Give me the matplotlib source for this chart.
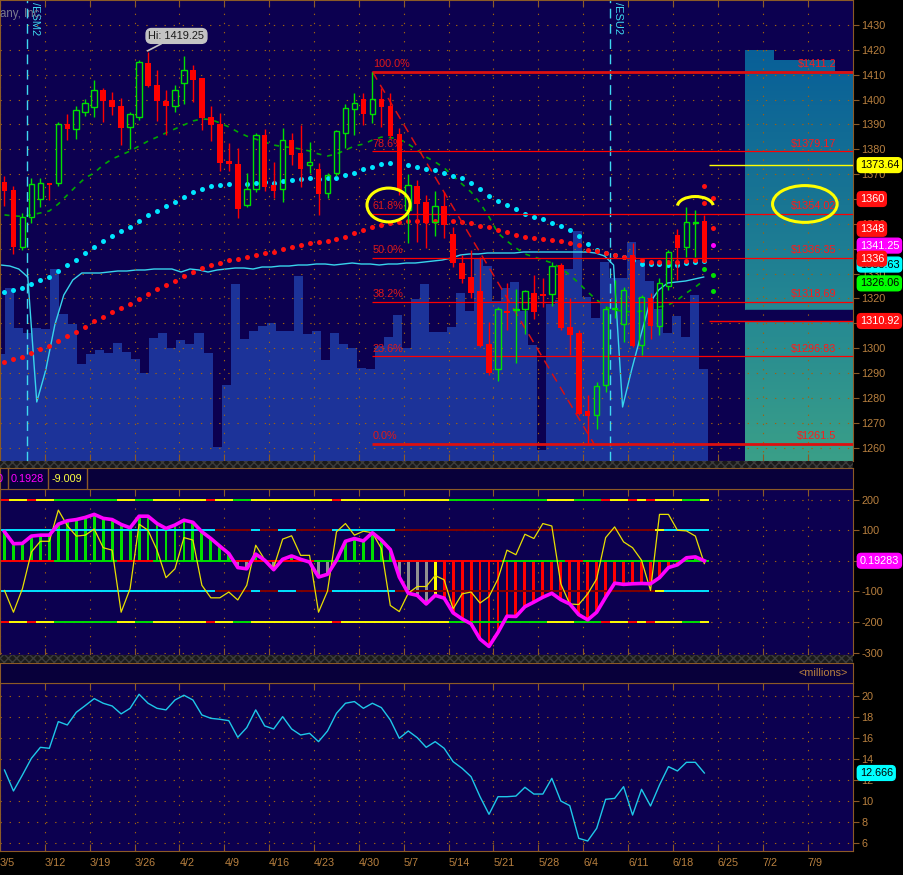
import numpy as np
import matplotlib.pyplot as plt
from matplotlib.colors import LinearSegmentedColormap
from matplotlib.patches import Rectangle, Ellipse, Arc, Polygon
from matplotlib.transforms import blended_transform_factory

plt.rcParams['font.family'] = ['Liberation Sans', 'DejaVu Sans']

# daily /ES bars, 3/5 .. 6/21
week_labels = ['3/5', '3/12', '3/19', '3/26', '4/2', '4/9', '4/16', '4/23', '4/30', '5/7',
               '5/14', '5/21', '5/28', '6/4', '6/11', '6/18', '6/25', '7/2', '7/9']

opens = [1367.0, 1363.6, 1340.8, 1352.6, 1359.9, 1366.6, 1366.3, 1390.2, 1388.0, 1395.1,
         1396.9, 1403.9, 1399.8, 1397.4, 1388.8, 1393.1, 1414.7, 1405.9, 1399.4, 1397.5,
         1406.8, 1411.9, 1408.7, 1393.1, 1390.2, 1375.1, 1374.1, 1357.4, 1363.9, 1385.6,
         1365.6, 1363.9, 1383.7, 1378.4, 1373.6, 1372.1, 1362.6, 1370.3, 1386.7, 1396.3,
         1400.1, 1394.1, 1400.1, 1397.4, 1386.1, 1355.6, 1365.2, 1358.8, 1350.9, 1357.3,
         1345.9, 1334.4, 1328.6, 1323.0, 1301.7, 1291.5, 1314.8, 1315.4, 1315.6, 1322.0,
         1321.8, 1321.6, 1333.4, 1308.6, 1306.0, 1274.7, 1273.1, 1285.2, 1315.8, 1309.6,
         1337.5, 1301.1, 1320.3, 1309.0, 1325.0, 1345.5, 1340.8, 1350.2, 1351.1]
highs = [1369.3, 1365.2, 1354.2, 1368.6, 1368.6, 1366.6, 1391.1, 1394.1, 1397.4, 1400.1,
         1407.9, 1404.5, 1403.2, 1400.8, 1395.1, 1416.0, 1419.25, 1411.9, 1403.9, 1405.9,
         1417.5, 1413.9, 1408.7, 1397.4, 1394.5, 1382.4, 1380.4, 1370.3, 1386.4, 1388.0,
         1374.8, 1388.4, 1386.4, 1389.8, 1382.8, 1374.3, 1370.6, 1387.8, 1398.1, 1402.8,
         1402.5, 1411.2, 1404.5, 1402.5, 1388.4, 1370.1, 1367.6, 1361.6, 1363.2, 1362.9,
         1348.9, 1337.5, 1339.5, 1336.8, 1310.6, 1316.7, 1326.1, 1323.7, 1323.4, 1329.4,
         1328.1, 1334.8, 1334.1, 1320.0, 1307.3, 1281.1, 1286.5, 1316.7, 1327.4, 1324.7,
         1342.4, 1321.4, 1322.0, 1328.1, 1339.5, 1347.8, 1356.9, 1355.6, 1353.5]
lows = [1357.2, 1337.9, 1339.5, 1350.2, 1356.9, 1359.6, 1365.2, 1383.7, 1384.1, 1393.5,
        1393.1, 1391.1, 1393.8, 1381.7, 1380.0, 1391.8, 1405.0, 1391.5, 1385.8, 1395.1,
        1398.2, 1399.2, 1387.8, 1383.5, 1371.4, 1371.4, 1352.2, 1356.6, 1362.9, 1363.4,
        1360.3, 1358.9, 1373.7, 1364.9, 1370.3, 1353.6, 1360.3, 1369.3, 1380.4, 1385.8,
        1389.8, 1390.7, 1389.1, 1384.4, 1361.6, 1342.2, 1342.8, 1340.1, 1345.1, 1344.2,
        1332.8, 1326.1, 1320.0, 1300.3, 1289.2, 1286.9, 1307.3, 1293.9, 1305.7, 1311.6,
        1316.7, 1317.1, 1307.3, 1297.2, 1273.1, 1261.5, 1267.3, 1282.5, 1312.0, 1302.6,
        1300.3, 1297.2, 1303.5, 1305.3, 1323.4, 1327.4, 1336.8, 1336.8, 1334.8]
closes = [1363.4, 1340.8, 1352.9, 1366.0, 1366.3, 1365.8, 1390.2, 1388.2, 1395.7, 1398.5,
          1403.7, 1399.4, 1397.2, 1388.7, 1394.1, 1415.0, 1405.6, 1399.4, 1397.5, 1403.7,
          1411.9, 1407.9, 1392.5, 1389.8, 1374.6, 1374.1, 1356.1, 1363.9, 1385.6, 1364.7,
          1363.4, 1383.6, 1377.7, 1372.1, 1374.8, 1362.0, 1369.5, 1387.4, 1396.5, 1398.5,
          1394.1, 1400.1, 1397.1, 1385.3, 1363.6, 1365.5, 1358.0, 1350.2, 1357.2, 1349.5,
          1334.1, 1327.8, 1322.0, 1300.9, 1289.9, 1315.6, 1314.3, 1315.9, 1323.0, 1314.4,
          1321.1, 1333.2, 1308.2, 1305.3, 1273.4, 1272.7, 1284.9, 1315.6, 1316.3, 1323.4,
          1300.9, 1320.4, 1309.0, 1326.1, 1338.5, 1340.4, 1350.6, 1350.6, 1336.0]

volume = [1.07, 1.73, 1.33, 1.28, 1.33, 1.32, 1.92, 1.47, 1.37, 0.97,
          1.07, 1.11, 1.08, 1.18, 1.09, 1.02, 0.88, 1.23, 1.28, 1.13,
          1.21, 1.17, 1.28, 1.08, 0.14, 0.76, 1.77, 1.22, 1.30, 1.35,
          1.38, 1.30, 1.30, 1.85, 1.27, 1.30, 1.01, 1.28, 1.17, 1.13,
          0.93, 0.92, 1.15, 1.24, 1.46, 1.13, 1.62, 1.77, 1.29, 1.29,
          1.34, 1.68, 1.50, 2.02, 1.95, 1.60, 1.73, 1.79, 1.50, 1.16,
          0.11, 1.57, 1.61, 1.92, 2.30, 1.64, 1.43, 1.99, 1.83, 1.83,
          2.19, 2.01, 1.80, 1.52, 1.28, 1.45, 1.24, 1.66, 0.92]
open_interest = [1.96, 1.95, 1.92, 1.84, 0.59, 0.91, 1.36, 1.66, 1.81, 1.88,
                 1.88, 1.88, 1.89, 1.90, 1.90, 1.91, 1.91, 1.92, 1.92, 1.92,
                 1.89, 1.92, 1.91, 1.89, 1.91, 1.92, 1.93, 1.93, 1.92, 1.94,
                 1.94, 1.95, 1.95, 1.96, 1.96, 1.97, 1.97, 1.96, 1.97, 1.98,
                 1.97, 1.97, 1.96, 1.97, 1.97, 1.98, 1.98, 1.99, 2.00, 2.01,
                 2.03, 2.06, 2.07, 2.07, 2.08, 2.08, 2.08, 2.08, 2.09, 2.09,
                 2.09, 2.09, 2.09, 2.09, 2.09, 2.09, 2.08, 2.05, 1.96, 0.54,
                 0.91, 1.25, 1.58, 1.71, 1.78, 1.79, 1.80, 1.82, 1.84]

ma_fast = [1353.6, 1353.2, 1353.0, 1353.6, 1354.4, 1355.2, 1358.0, 1361.6, 1365.2, 1368.5,
           1370.5, 1373.7, 1376.1, 1377.7, 1379.3, 1381.3, 1383.3, 1384.9, 1386.6, 1388.2,
           1389.8, 1391.4, 1392.2, 1392.0, 1390.6, 1389.0, 1387.0, 1385.3, 1384.1, 1382.9,
           1381.7, 1381.1, 1380.7, 1380.1, 1379.3, 1378.1, 1377.3, 1378.1, 1379.7, 1381.3,
           1382.1, 1383.7, 1384.9, 1384.7, 1384.1, 1382.1, 1379.7, 1376.9, 1374.9, 1372.5,
           1369.3, 1366.0, 1362.8, 1358.4, 1352.8, 1346.3, 1343.1, 1340.3, 1337.9, 1336.7,
           1335.5, 1334.3, 1332.2, 1329.4, 1326.2, 1322.6, 1319.4, 1316.6, 1315.3, 1314.9,
           1314.5, 1314.9, 1315.7, 1316.6, 1317.4, 1319.4, 1322.2, 1324.6, 1327.4]
ma_mid = [1322.6, 1323.4, 1324.3, 1325.8, 1327.4, 1328.6, 1331.0, 1333.5, 1335.5, 1338.4,
          1340.7, 1343.2, 1345.2, 1347.1, 1348.7, 1351.2, 1353.6, 1355.2, 1357.2, 1358.9,
          1360.9, 1363.0, 1364.1, 1365.4, 1365.8, 1366.2, 1366.2, 1366.2, 1366.6, 1367.0,
          1366.6, 1367.4, 1367.8, 1368.2, 1368.6, 1368.2, 1368.6, 1368.6, 1369.8, 1370.6,
          1372.0, 1373.0, 1374.0, 1374.6, 1374.1, 1373.6, 1373.0, 1372.2, 1371.7, 1370.6,
          1369.3, 1368.3, 1366.6, 1364.1, 1361.2, 1359.3, 1357.6, 1355.9, 1354.0, 1352.9,
          1351.8, 1350.5, 1349.3, 1347.5, 1345.2, 1342.0, 1339.5, 1338.4, 1337.5, 1336.8,
          1335.5, 1333.9, 1333.9, 1333.9, 1333.6, 1333.6, 1334.1, 1334.8, 1335.1]
ma_slow = [1294.6, 1295.6, 1296.6, 1298.2, 1299.7, 1301.0, 1302.9, 1305.0, 1306.6, 1308.6,
           1310.9, 1312.7, 1314.7, 1316.3, 1317.9, 1319.9, 1321.9, 1323.8, 1325.5, 1327.1,
           1329.2, 1330.8, 1332.4, 1333.6, 1334.4, 1335.6, 1336.0, 1336.8, 1337.6, 1338.4,
           1338.8, 1339.9, 1340.8, 1341.6, 1342.4, 1342.8, 1343.2, 1344.0, 1344.8, 1346.5,
           1347.7, 1348.9, 1349.7, 1350.5, 1350.9, 1351.3, 1351.3, 1351.3, 1351.3, 1351.3,
           1351.3, 1350.9, 1350.5, 1349.3, 1348.9, 1347.7, 1346.8, 1345.6, 1344.8, 1344.4,
           1344.0, 1343.6, 1343.2, 1342.4, 1341.5, 1339.5, 1339.1, 1338.3, 1337.6, 1336.8,
           1336.1, 1335.5, 1334.8, 1334.8, 1334.8, 1334.8, 1335.1, 1335.5, 1335.5]

# pivot projections for the next bars
piv_red_day = [78, 78, 79, 79]
piv_red = [1365.4, 1358.2, 1360.5, 1348.3]
piv_mag_day = [78, 79]
piv_mag = [1348.6, 1341.6]
piv_grn_day = [78, 78, 79, 79]
piv_grn = [1341.5, 1331.8, 1329.4, 1323.1]

# fibonacci retracement 4/30 high -> 6/4 low
fib_anchor_days = [41, 65.7]
fib_levels = [1411.2, 1379.17, 1354.02, 1336.35, 1318.69, 1296.83, 1261.5]
fib_pct = ['100.0%', '78.6%', '61.8%', '50.0%', '38.2%', '23.6%', '0.0%']
fib_price = ['$1411.2', '$1379.17', '$1354.02', '$1336.35', '$1318.69', '$1296.83', '$1261.5']

# probability box on the right
box_edges = [82.5, 85.8, 92.6, 94.6]
box_tops = [1420, 1416, 1411.5]
box_gap = [1311.3, 1315.3]
proj_yellow = 1373.64
proj_red = 1310.92

# right axis flags: text, value, background, text colour
top_flags = [('1373.64', 1373.64, '#ffff00', 'black'),
             ('1360', 1360.0, '#ff1010', 'white'),
             ('1348', 1348.0, '#ff1010', 'white'),
             ('1333.63', 1333.63, '#00ffff', 'black'),
             ('1341.25', 1341.25, '#ff00ff', 'white'),
             ('1336', 1336.0, '#ff1010', 'white'),
             ('1326.06', 1326.06, '#00ff00', 'black'),
             ('1310.92', 1310.92, '#ff1010', 'white')]

# CCI style oscillator
cci_avg = [95, 56, 57, 81, 84, 84, 120, 131, 135, 142,
           152, 139, 135, 119, 108, 146, 146, 122, 106, 117,
           133, 126, 95, 73, 48, 24, -22, -26, 22, 2,
           -29, 5, 16, 5, -4, -53, -44, 2, 64, 73,
           65, 92, 68, 37, -53, -106, -113, -141, -113, -122,
           -170, -190, -206, -256, -280, -234, -181, -182, -150, -135,
           -119, -106, -127, -141, -176, -193, -168, -119, -73, -77,
           -75, -74, -75, -55, -22, -13, 10, 13, 0.19283]
cci_raw = [-97, -168, -91, 29, 64, 64, 166, 115, 81, 84,
           104, 43, 35, -168, -91, 120, 100, 35, -55, -26,
           76, 68, -80, -121, -121, -102, -128, -80, 51, 4,
           -22, 71, 82, 18, 18, -168, -99, 95, 122, 84,
           97, 92, 40, -146, -166, -106, -84, -84, -48, -62,
           -157, -108, -102, -138, -117, -59, 35, 20, 87, 73,
           122, 114, -75, -141, -143, -108, -59, 76, 111, 62,
           43, 2, -97, 152, 152, 100, 98, 81, -9.009]
band200_state = ("RYYRYYGGGGGGGYYGGYYYYYYRYYGGYYYYYYYYYRYYYYYYYYYYYY"
                 "GGGGGGGGGGGYYYGGGRYYRYRYYYGGY")
band100_state = ("CCCCCCCCCCCCCCCCCCCCCCCCDDDDCDDCCDDDDCCCCCCC"
                 "DDDDDDDDDDDDDDDDDDDDDDDDDDDDDYCCCCC")
zero_state = ("RRRRRRGGGGGGGRRRRGGGGGGGGGRRRRRRRRRGGGGGGGGGRRRRRR"
              "RRRRRRGGGGGGGRRGGGGGGGGGGGGGG")
hist_state = ("GGGGGGGGGGGGGGGGGGGGGGGGGGXXGGXGGGXXXGGGGGGGXXXXY"
              "RRRRRRRRRRRRRRRRRRRRRRRRRRRGGG")

# lower study, millions
vol_avg = [12.95, 10.96, 12.48, 14.06, 15.10, 15.01, 17.54, 17.22, 18.42, 19.06,
           19.72, 19.28, 19.02, 18.27, 18.80, 20.13, 19.28, 18.80, 18.65, 19.59,
           20.04, 19.59, 18.17, 17.85, 17.76, 17.63, 16.05, 16.97, 18.65, 17.13,
           16.84, 18.01, 16.84, 16.27, 16.43, 15.64, 16.65, 18.33, 19.28, 19.44,
           18.80, 19.28, 18.87, 17.70, 15.96, 16.65, 16.02, 15.10, 15.64, 15.01,
           13.74, 13.11, 12.32, 10.42, 8.75, 10.42, 10.42, 10.48, 11.31, 10.67,
           10.67, 12.16, 10.01, 9.57, 6.47, 6.22, 7.42, 10.17, 10.26, 11.37,
           8.68, 11.12, 9.54, 11.53, 13.27, 12.86, 13.68, 13.68, 12.666]

# ---------------- style ----------------
BG = '#0c0050'
HDR = '#08003a'
AXC = '#8c5a26'
TXT = '#b9803f'
GRIDC = '#a0620e'
RED = '#ff0000'
GREEN = '#00e000'
state_colors = {'R': '#ff0000', 'Y': '#ffff00', 'G': '#00e000', 'C': '#00e5ff',
                'D': '#800000', 'X': '#909090'}
grid_ls = (0, (1.2, 7))

W, H = 904, 875


def rect(x0, y0, x1, y1):
    return [x0 / W, 1 - y1 / H, (x1 - x0) / W, (y1 - y0) / H]


x = np.arange(len(opens))
o, h, l, c = map(np.array, (opens, highs, lows, closes))
week_ticks = np.arange(len(week_labels)) * 5 - 0.5
xlim = (-0.08, 94.6)

fig = plt.figure(figsize=(9.04, 8.75), dpi=100, facecolor='black')

# ---------------- price panel ----------------
axv = fig.add_axes(rect(0, 0, 853.3, 461), facecolor=BG)
axv.bar(x, volume, width=1.0, color='#1c3399', linewidth=0)
axv.plot(x, open_interest, color='#38d4ec', lw=1.0)
axv.set_xlim(xlim)
axv.set_ylim(0, 4.61)
axv.set_xticks([])
axv.set_yticks([])
for s in axv.spines.values():
    s.set_visible(False)

ax1 = fig.add_axes(rect(0, 0, 853.3, 461), facecolor='none')
ax1.set_axisbelow(True)

# gradient box
grad = np.linspace(0, 1, 256).reshape(-1, 1)
cmap = LinearSegmentedColormap.from_list('box', ['#085f98', '#177394', '#268a92', '#3a9f88'])
im = ax1.imshow(grad, extent=[box_edges[0], box_edges[-1], 1254.6, box_tops[0]],
                aspect='auto', cmap=cmap, origin='upper', zorder=0.2)
verts = [(box_edges[0], 1254.6)]
for i, top in enumerate(box_tops):
    verts += [(box_edges[i], top), (box_edges[i + 1], top)]
verts += [(box_edges[-1], 1254.6)]
im.set_clip_path(Polygon(verts, closed=True, transform=ax1.transData))
ax1.add_patch(Rectangle((box_edges[0], box_gap[0]), box_edges[-1] - box_edges[0],
                        box_gap[1] - box_gap[0], color=BG, zorder=0.3))

# moving averages
ax1.plot(x, ma_fast, color='#00a800', ls=(0, (3, 3.5)), lw=1.2, zorder=2)
ax1.plot(x, ma_mid, ls='none', marker='o', ms=3.6, color='#00e5ff', mec='none', zorder=2.2)
ax1.plot(x, ma_slow, ls='none', marker='o', ms=3.6, color='#ff1010', mec='none', zorder=2.2)
ax1.plot(piv_red_day, piv_red, ls='none', marker='o', ms=3.6, color='#ff1010', mec='none', zorder=2.2)
ax1.plot(piv_mag_day, piv_mag, ls='none', marker='o', ms=3.6, color='#ff00ff', mec='none', zorder=2.2)
ax1.plot(piv_grn_day, piv_grn, ls='none', marker='o', ms=3.6, color='#00e000', mec='none', zorder=2.2)

# candles
up = c >= o
blo = np.minimum(o, c)
bhi = np.maximum(o, c)
bh = np.maximum(bhi - blo, 0.45)
dn = ~up
ax1.vlines(x[dn], l[dn], h[dn], color=RED, lw=1.0, zorder=3)
ax1.bar(x[dn], bh[dn], width=0.62, bottom=blo[dn], color=RED, linewidth=0, zorder=3.1)
ax1.vlines(x[up], bhi[up], h[up], color=GREEN, lw=1.0, zorder=3)
ax1.vlines(x[up], l[up], blo[up], color=GREEN, lw=1.0, zorder=3)
ax1.bar(x[up], bh[up], width=0.62, bottom=blo[up], facecolor='none', edgecolor=GREEN,
        linewidth=1.0, zorder=3.1)

# fibonacci
for i, (lev, pct, lab) in enumerate(zip(fib_levels, fib_pct, fib_price)):
    thick = i in (0, len(fib_levels) - 1)
    ax1.hlines(lev, fib_anchor_days[0], xlim[1], color='#dd1010' if thick else RED,
               lw=2.0 if thick else 0.9, zorder=2.5)
    ax1.text(fib_anchor_days[0] + 0.05, lev + 1.0, pct, color='#e01818', fontsize=7.8,
             ha='left', va='bottom', zorder=2.6)
    ax1.text(92.68, lev + 1.0, lab, color='#ff1a1a', fontsize=7.8,
             ha='right', va='bottom', zorder=2.6)
ax1.plot(fib_anchor_days, [fib_levels[0], fib_levels[-1]], color='#d81010',
         ls=(0, (6, 4)), lw=1.1, zorder=2.4)

ax1.hlines(proj_yellow, 78.5, xlim[1], color='#ffff00', lw=1.0, zorder=2.5)
ax1.hlines(proj_red, 78.5, xlim[1], color=RED, lw=1.0, zorder=2.5)

# contract roll markers
for xd, name, tx in [(2.55, '/ESM2', 3.4), (67.5, '/ESU2', 68.4)]:
    ax1.axvline(xd, color='#3fd8f0', ls=(0, (7, 4)), lw=1.0, zorder=2.3)
    ax1.text(tx, 1439.2, name, rotation=270, va='top', ha='center', color='#3fd8f0',
             fontsize=8, zorder=5)

# hand drawn marks
ax1.add_patch(Ellipse((42.8, 1357.6), 4.8, 13.6, fill=False, ec='#ffff00', lw=2.2, zorder=6))
ax1.add_patch(Ellipse((89.2, 1358.0), 7.2, 14.8, fill=False, ec='#ffff00', lw=2.2, zorder=6))
ax1.add_patch(Arc((77.0, 1357.0), 4.0, 8.0, theta1=15, theta2=170, ec='#ffff00', lw=2.2, zorder=6))

ax1.annotate('Hi: 1419.25', xy=(15.95, 1419.6), xytext=(16.05, 1425.6), ha='left', va='center',
             fontsize=7.9, color='#1a1a1a', zorder=7,
             bbox=dict(boxstyle='round,pad=0.22,rounding_size=0.5', fc='#c4c4c4', ec='#c4c4c4'),
             arrowprops=dict(arrowstyle='-', color='#c4c4c4', lw=1.2, shrinkA=0, shrinkB=0))

fig.text(0.0, 1 - 14 / H, 'any, Inc.', color='#7c7c8c', fontsize=8.3, ha='left', va='center')

ax1.set_xlim(xlim)
ax1.set_ylim(1254.6, 1440.06)
ax1.set_yticks(np.arange(1260, 1431, 10))

# right axis flags
tb1 = blended_transform_factory(ax1.transAxes, ax1.transData)
for txt, val, bg, fg in top_flags:
    ax1.text(1.0075, val, txt, transform=tb1, ha='left', va='center', color=fg, fontsize=7.8,
             clip_on=False, zorder=10,
             bbox=dict(boxstyle='round,pad=0.22,rounding_size=0.35', fc=bg, ec=bg))

# ---------------- oscillator panel ----------------
ax2 = fig.add_axes(rect(0, 489, 853.3, 655), facecolor=BG)
ax2.set_axisbelow(True)
for lev, states in [(200, band200_state), (-200, band200_state), (100, band100_state),
                    (-100, band100_state), (0, zero_state)]:
    ax2.hlines(np.full(len(x), lev), x - 0.5, x + 0.5,
               colors=[state_colors[s] for s in states], lw=1.4, zorder=2.5)
ax2.bar(x, cci_avg, width=0.32, color=[state_colors[s] for s in hist_state], linewidth=0, zorder=2)
ax2.plot(x, cci_raw, color='#e8e000', lw=0.9, zorder=3)
ax2.plot(x, cci_avg, color='#ff00ff', lw=2.6, zorder=4, solid_joinstyle='round')
ax2.set_xlim(xlim)
ax2.set_ylim(-308, 235)
ax2.set_yticks([-300, -200, -100, 0, 100, 200])
ax2.set_yticklabels(['-300', '-200', '-100', '', '100', '200'])
tb2 = blended_transform_factory(ax2.transAxes, ax2.transData)
ax2.text(1.0075, cci_avg[-1], '0.19283', transform=tb2, ha='left', va='center', color='white',
         fontsize=7.8, clip_on=False, zorder=10,
         bbox=dict(boxstyle='round,pad=0.22,rounding_size=0.35', fc='#ff00ff', ec='#ff00ff'))

hdr2 = fig.add_axes(rect(0, 468, 853.3, 489), facecolor=HDR)
hdr2.set_xlim(0, 853.3)
hdr2.set_ylim(0, 1)
hdr2.set_xticks([])
hdr2.set_yticks([])
for xs in (8, 48.5, 87):
    hdr2.axvline(xs, color=AXC, lw=1)
hdr2.text(3, 0.5, '0', color='#ff00ff', fontsize=7.8, ha='right', va='center')
hdr2.text(11, 0.5, '0.1928', color='#ff00ff', fontsize=7.8, ha='left', va='center')
hdr2.text(52, 0.5, '-9.009', color='#ffff40', fontsize=7.8, ha='left', va='center')

# ---------------- lower panel ----------------
ax3 = fig.add_axes(rect(0, 683, 853.3, 851), facecolor=BG)
ax3.set_axisbelow(True)
ax3.plot(x, vol_avg, color='#1ec8e8', lw=1.0, zorder=3)
ax3.set_xlim(xlim)
ax3.set_ylim(5.27, 21.2)
ax3.set_yticks(np.arange(6, 21, 2))
tb3 = blended_transform_factory(ax3.transAxes, ax3.transData)
ax3.text(1.0075, vol_avg[-1], '12.666', transform=tb3, ha='left', va='center', color='black',
         fontsize=7.8, clip_on=False, zorder=10,
         bbox=dict(boxstyle='round,pad=0.22,rounding_size=0.35', fc='#00ffff', ec='#00ffff'))

hdr3 = fig.add_axes(rect(0, 663, 853.3, 683), facecolor=HDR)
hdr3.set_xlim(0, 853.3)
hdr3.set_ylim(0, 1)
hdr3.set_xticks([])
hdr3.set_yticks([])
hdr3.text(848, 0.5, '<millions>', color=TXT, fontsize=7.8, ha='right', va='center')

# common axis styling
for ax in (ax1, ax2, ax3):
    ax.set_xticks(week_ticks)
    ax.grid(True, color=GRIDC, ls=grid_ls, lw=0.8)
    ax.tick_params(axis='x', direction='in', length=5, color=AXC, top=True, bottom=True,
                   labelbottom=False)
    ax.yaxis.tick_right()
    ax.tick_params(axis='y', direction='out', length=4, color=AXC, labelcolor=TXT,
                   labelsize=7.8, pad=2, left=False, right=True)
    for s in ax.spines.values():
        s.set_color(AXC)
for ax in (hdr2, hdr3):
    for s in ax.spines.values():
        s.set_color(AXC)

ax3.tick_params(axis='x', labelbottom=True, labelcolor=TXT, labelsize=7.8, pad=5)
ax3.set_xticklabels(week_labels, ha='left')

# separators between panels
for y0, y1 in [(461, 468), (655, 663)]:
    r = rect(0, y0, 853.3, y1)
    fig.add_artist(Rectangle((r[0], r[1]), r[2], r[3], transform=fig.transFigure,
                             facecolor='#1a1a1a', edgecolor='#3c3c3c', hatch='xxxx', lw=0))

fig.savefig('out.png', dpi=100, facecolor='black')
